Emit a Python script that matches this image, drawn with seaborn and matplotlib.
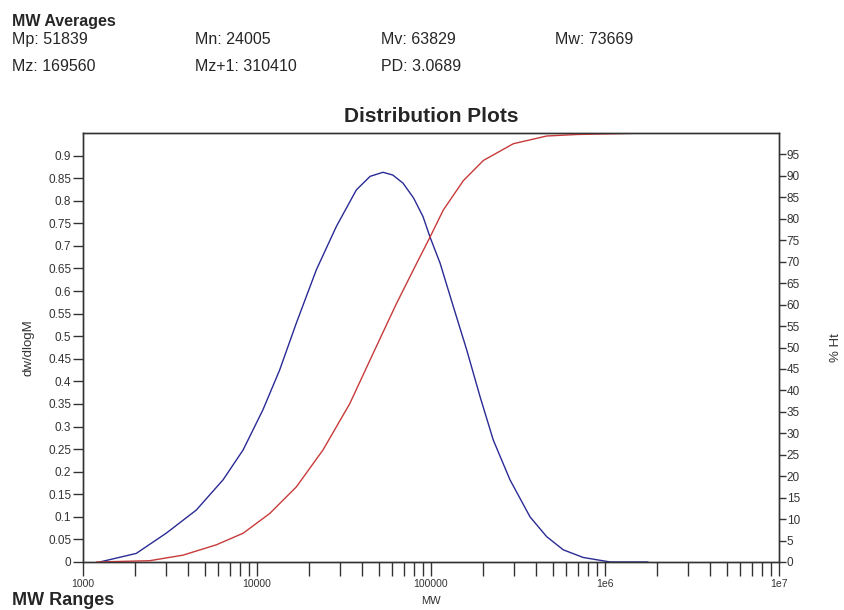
import numpy as np
import pandas as pd
import matplotlib
matplotlib.use("Agg")
import matplotlib.pyplot as plt
import seaborn as sns

# MW averages shown in the header
averages = [["Mp: 51839", "Mn: 24005", "Mv: 63829", "Mw: 73669"],
            ["Mz: 169560", "Mz+1: 310410", "PD: 3.0689"]]

# dw/dlogM curve (blue, left axis)
dw_mw = [1247, 2023, 3013, 4477, 6383, 8318, 10814, 13490, 16827, 21928, 28576,
         37239, 44668, 52966, 60256, 69024, 79433, 89950, 98628, 112720, 134276,
         160325, 191426, 228034, 284446, 370681, 462381, 575440, 749894, 1071519,
         1766038]
dw_val = [0.000, 0.019, 0.064, 0.115, 0.182, 0.248, 0.337, 0.425, 0.529, 0.647, 0.743,
          0.824, 0.854, 0.863, 0.857, 0.839, 0.806, 0.765, 0.720, 0.662, 0.566,
          0.470, 0.366, 0.270, 0.182, 0.100, 0.056, 0.027, 0.010, 0.000,
          0.000]

# cumulative % Ht curve (red, right axis)
cum_mw = [1194, 2415, 3758, 5834, 8318, 11830, 16827, 23933, 34119, 46452, 63241,
          82414, 98628, 117490, 153462, 199986, 297167, 462381, 687068, 1766038]
cum_pct = [0.0, 0.3, 1.6, 4.0, 6.7, 11.3, 17.5, 26.1, 36.9, 48.6, 60.2,
           69.5, 75.7, 82.0, 88.9, 93.6, 97.5, 99.3, 99.65, 100.0]

x_ticks = [1000, 10000, 100000, 1000000, 10000000]
x_labels = ["1000", "10000", "100000", "1e6", "1e7"]

sns.set_style("ticks")
plt.rcParams["font.family"] = ["Liberation Sans", "DejaVu Sans"]

fig = plt.figure(figsize=(8.44, 6.10), dpi=100)
ax = fig.add_axes([83 / 844, 48 / 610, 696 / 844, 429 / 610])
ax2 = ax.twinx()

df_dw = pd.DataFrame({"MW": dw_mw, "dw": dw_val})
df_cum = pd.DataFrame({"MW": cum_mw, "pct": cum_pct})

sns.lineplot(data=df_dw, x="MW", y="dw", ax=ax, color="#2a2a96", linewidth=1.0)
sns.lineplot(data=df_cum, x="MW", y="pct", ax=ax2, color="#c83a3a", linewidth=1.0)

for a in (ax, ax2):
    a.set_xscale("log")
    a.set_xlim(1000, 1e7)
    for s in a.spines.values():
        s.set_color("#333333")
        s.set_linewidth(1.0)

ax.set_ylim(0, 0.95)
ax2.set_ylim(0, 100)

ax.set_xticks(x_ticks)
ax.set_xticklabels(x_labels)
ax.xaxis.set_minor_locator(matplotlib.ticker.LogLocator(base=10, subs=np.arange(2, 10)))
ax.xaxis.set_minor_formatter(matplotlib.ticker.NullFormatter())

yt = np.round(np.arange(0, 0.91, 0.05), 2)
ax.set_yticks(yt)
ax.set_yticklabels(["0"] + [("%g" % v) for v in yt[1:]])
ax2.set_yticks(np.arange(0, 96, 5))

ax.tick_params(axis="x", which="both", direction="out", length=10, width=1,
               color="#333333", labelsize=7.5, labelcolor="#333333", pad=2.5)
ax.tick_params(axis="y", direction="out", length=7, width=1, color="#333333",
               labelsize=8.5, labelcolor="#333333", pad=1.5)
ax2.tick_params(axis="y", direction="out", length=5, width=1, color="#333333",
                labelsize=8.5, labelcolor="#333333", pad=0.5)

ax.set_xlabel("MW", fontsize=8, color="#333333", labelpad=4.5)
ax.set_ylabel("dw/dlogM", fontsize=9.5, color="#333333", labelpad=10)
ax2.set_ylabel("% Ht", fontsize=9.5, color="#333333", labelpad=22)
ax.set_title("Distribution Plots", fontsize=15, fontweight="bold", pad=8)

fig.text(12 / 844, 1 - 26 / 610, "MW Averages", fontsize=11.5, fontweight="bold", va="baseline")
cols = [12, 195, 381, 555]
rows = [44, 71]
for r, row in enumerate(averages):
    for c, txt in enumerate(row):
        fig.text(cols[c] / 844, 1 - rows[r] / 610, txt, fontsize=11.5, va="baseline")
fig.text(12 / 844, 1 - 605 / 610, "MW Ranges", fontsize=13, fontweight="bold", va="baseline")

fig.savefig("out.png", dpi=100)
